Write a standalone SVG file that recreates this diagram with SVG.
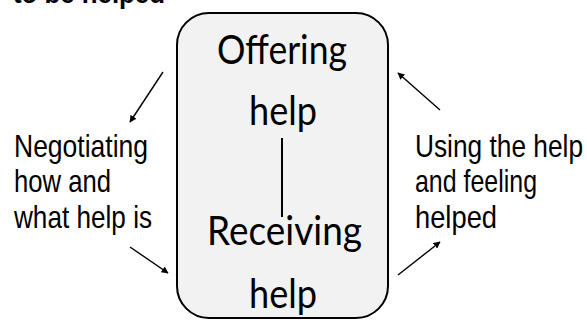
<svg xmlns="http://www.w3.org/2000/svg" width="587" height="320" viewBox="0 0 587 320">
<style>
.side{font-family:"Liberation Sans",Arial,sans-serif;font-size:32px;fill:#000}
.ctr{font-family:Lato,"Open Sans",sans-serif;font-size:40px;fill:#000;text-anchor:middle}
.title{font-family:"Liberation Sans",Arial,sans-serif;font-size:28px;font-weight:bold;fill:#000}
.arr{stroke:#000;stroke-width:1.4;fill:none;marker-end:url(#ah)}
</style>
<defs>
<marker id="ah" viewBox="0 0 10 10" refX="9" refY="5" markerWidth="7" markerHeight="7" markerUnits="userSpaceOnUse" orient="auto">
<path d="M0,0 L10,5 L0,10 z" fill="#000"/>
</marker>
</defs>
<text class="title" x="13" y="3" textLength="152" lengthAdjust="spacingAndGlyphs">to be helped</text>
<g id="center">
<rect x="177" y="13" width="211" height="305" rx="32" ry="32" fill="#f2f2f2" stroke="#000" stroke-width="2"/>
<text class="ctr" x="282" y="64" textLength="130" lengthAdjust="spacingAndGlyphs">Offering</text>
<text class="ctr" x="283" y="125" textLength="68" lengthAdjust="spacingAndGlyphs">help</text>
<line x1="282" y1="138" x2="282" y2="217" stroke="#000" stroke-width="2"/>
<text class="ctr" x="284.5" y="245" textLength="155" lengthAdjust="spacingAndGlyphs">Receiving</text>
<text class="ctr" x="283" y="308" textLength="68" lengthAdjust="spacingAndGlyphs">help</text>
</g>
<g id="left">
<text class="side" x="14" y="157" textLength="134" lengthAdjust="spacingAndGlyphs">Negotiating</text>
<text class="side" x="14" y="192" textLength="97" lengthAdjust="spacingAndGlyphs">how and</text>
<text class="side" x="14" y="228" textLength="138" lengthAdjust="spacingAndGlyphs">what help is</text>
</g>
<g id="right">
<text class="side" x="415" y="157" textLength="168" lengthAdjust="spacingAndGlyphs">Using the help</text>
<text class="side" x="415" y="192" textLength="122" lengthAdjust="spacingAndGlyphs">and feeling</text>
<text class="side" x="415" y="228" textLength="82" lengthAdjust="spacingAndGlyphs">helped</text>
</g>
<g id="connectors">
<line class="arr" x1="163" y1="72" x2="130" y2="122"/>
<line class="arr" x1="130" y1="247" x2="168" y2="273"/>
<line class="arr" x1="440" y1="110" x2="398" y2="73"/>
<line class="arr" x1="398" y1="275" x2="440" y2="242"/>
</g>
</svg>
